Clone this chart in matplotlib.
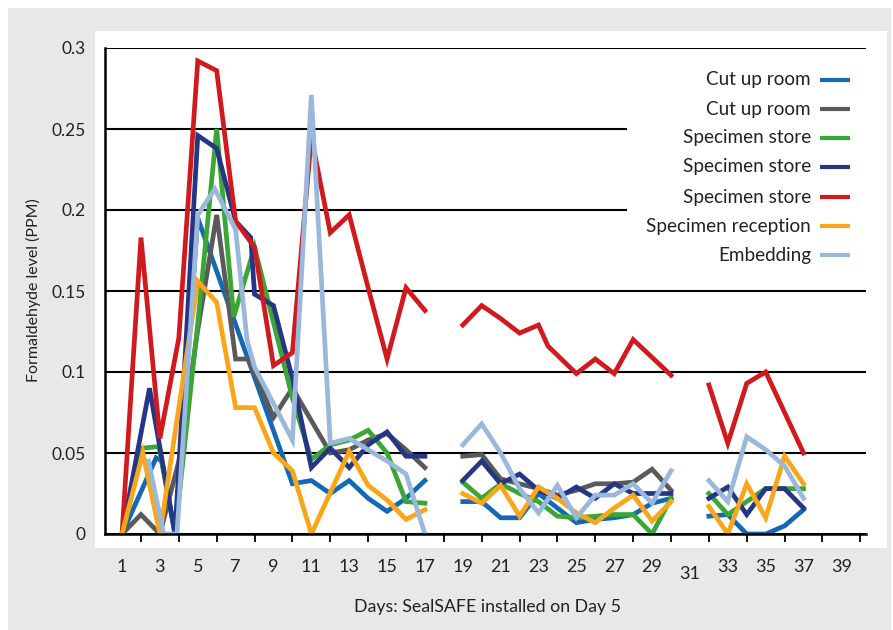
import numpy as np
import matplotlib.pyplot as plt
from matplotlib.patches import Rectangle
from matplotlib.lines import Line2D
import matplotlib.transforms as mtransforms

nan = np.nan

labels = ['Cut up room', 'Cut up room', 'Specimen store', 'Specimen store',
          'Specimen store', 'Specimen reception', 'Embedding']
colors = ['#1469b4', '#5a5a5a', '#3aa635', '#253686', '#d01a1e', '#f9a61a', '#9ab8dc']

# cut up room (blue)
blue_x = [1, 2.8, 3.1, 3.8, 5, 10, 11, 12, 13, 14, 15, 16, 17, nan,
          19, 20, 21, 22, 23, 24, 25, 26, 27, 28, 29, 30, nan,
          32, 33, 34, 35, 36, 37]
blue_y = [0, 0.047, 0.045, 0, 0.195, 0.031, 0.033, 0.025, 0.033, 0.022, 0.014, 0.022, 0.033, nan,
          0.020, 0.020, 0.010, 0.010, 0.025, 0.016, 0.007, 0.009, 0.010, 0.012, 0.019, 0.022, nan,
          0.011, 0.012, 0, 0, 0.005, 0.015]

# cut up room (grey)
grey_x = [1, 2, 3, 4, 5, 6, 7, 7.7, 9, 10, 12, 13, 14, 15, 16, 17, nan,
          19, 20, 21, 22, 23, 24, 25, 26, 27, 28, 29, 30]
grey_y = [0, 0.012, 0, 0.045, 0.126, 0.197, 0.108, 0.108, 0.072, 0.090, 0.050, 0.052, 0.058, 0.062, 0.052, 0.041, nan,
          0.048, 0.049, 0.034, 0.031, 0.028, 0.024, 0.027, 0.031, 0.031, 0.032, 0.040, 0.027]

# specimen store (green)
green_x = [1, 2.1, 2.95, 3.8, 5, 6, 6.9, 8, 10, 11, 12, 13, 14, 15, 16, 17, nan,
           19, 20, 21, 22, 23, 24, 25, 26, 27, 28, 29, 30, nan,
           32, 33, 34, 35, 36, 37]
green_y = [0, 0.053, 0.054, 0, 0.13, 0.250, 0.134, 0.177, 0.084, 0.046, 0.055, 0.058, 0.064, 0.050, 0.020, 0.019, nan,
           0.032, 0.022, 0.031, 0.025, 0.020, 0.011, 0.010, 0.011, 0.012, 0.012, 0, 0.022, nan,
           0.025, 0.012, 0.020, 0.028, 0.028, 0.028]

# specimen store (navy)
navy_x = [1, 2.45, 3.8, 5, 6, 7, 7.8, 8.0, 9, 10, 11, 12, 13, 14, 15, 16, 17, nan,
          19, 20, 21, 22, 23, 24, 25, 26, 27, 28, 29, 30, nan,
          32, 33, 34, 35, 36, 37]
navy_y = [0, 0.090, 0, 0.246, 0.238, 0.193, 0.183, 0.148, 0.141, 0.096, 0.041, 0.053, 0.041, 0.055, 0.063, 0.048, 0.048, nan,
          0.033, 0.045, 0.031, 0.037, 0.027, 0.022, 0.029, 0.022, 0.031, 0.025, 0.025, 0.025, nan,
          0.022, 0.029, 0.012, 0.028, 0.028, 0.016]

# specimen store (red)
red_x = [1, 2, 3, 4, 5, 6, 7, 8, 9, 10, 11, 12, 13, 14, 15, 16, 17, nan,
         19, 20, 21, 22, 23, 23.5, 25, 26, 27, 28, 29, 30, nan,
         32, 33, 34, 35, 36, 37]
red_y = [0, 0.183, 0.059, 0.121, 0.292, 0.286, 0.193, 0.177, 0.104, 0.112, 0.245, 0.186, 0.197, 0.152, 0.108, 0.152, 0.138, nan,
         0.129, 0.141, 0.133, 0.124, 0.129, 0.116, 0.099, 0.108, 0.099, 0.120, 0.109, 0.098, nan,
         0.092, 0.056, 0.093, 0.100, 0.075, 0.050]

# specimen reception (orange)
orange_x = [1, 2.1, 3, 5, 6, 7, 8, 9, 10, 11, 13, 14, 15, 16, 17, nan,
            19, 20, 21, 22, 23, 24, 25, 26, 27, 28, 29, 30, nan,
            32, 33, 34, 35, 36, 37]
orange_y = [0, 0.050, 0, 0.156, 0.143, 0.078, 0.078, 0.050, 0.039, 0, 0.051, 0.030, 0.021, 0.009, 0.015, nan,
            0.025, 0.019, 0.030, 0.011, 0.029, 0.022, 0.013, 0.007, 0.016, 0.024, 0.008, 0.020, nan,
            0.017, 0, 0.031, 0.010, 0.048, 0.031]

# embedding (light blue)
lb_x = [2.4, 3.2, 3.9, 5, 5.9, 7, 7.6, 8, 10, 11, 12, 13, 14, 15, 16, 17, nan,
        19, 20, 21, 22, 23, 24, 25, 26, 27, 28, 29, 30, nan,
        32, 33, 34, 35, 36, 37]
lb_y = [0.045, 0, 0, 0.197, 0.213, 0.188, 0.120, 0.103, 0.058, 0.271, 0.056, 0.059, 0.052, 0.045, 0.037, 0, nan,
        0.055, 0.068, 0.050, 0.028, 0.013, 0.030, 0.010, 0.024, 0.024, 0.031, 0.019, 0.039, nan,
        0.033, 0.020, 0.060, 0.052, 0.042, 0.022]

series = [(blue_x, blue_y), (grey_x, grey_y), (green_x, green_y), (navy_x, navy_y),
          (red_x, red_y), (orange_x, orange_y), (lb_x, lb_y)]

odd_days = list(range(1, 40, 2))
even_days = list(range(2, 41, 2))
yticks = [0, 0.05, 0.1, 0.15, 0.2, 0.25, 0.3]
ytick_labels = ['0', '0.05', '0.1', '0.15', '0.2', '0.25', '0.3']

W, H = 893, 630
fig = plt.figure(figsize=(W / 100, H / 100), dpi=100)
fig.patch.set_facecolor('white')
fig.add_artist(Rectangle((8 / W, 0), 883 / W, 622 / H, transform=fig.transFigure,
                         facecolor='#e8e8e8', edgecolor='none', zorder=-3))
fig.add_artist(Rectangle((95 / W, 82 / H), 792 / W, 517 / H, transform=fig.transFigure,
                         facecolor='white', edgecolor='none', zorder=-2))

ax = fig.add_axes([105 / W, 96 / H, 761 / W, 486 / H])
ax.set_facecolor('none')

font = ['Lato', 'DejaVu Sans']
narrow = ['Liberation Sans Narrow', 'Lato', 'DejaVu Sans']

for (x, y), c, lab in zip(series, colors, labels):
    ax.plot(x, y, color=c, lw=3.4, label=lab, solid_joinstyle='miter', zorder=2)

ax.set_xlim(0.1, 40.3)
ax.set_ylim(0, 0.3)

ax.set_axisbelow(True)
ax.yaxis.grid(True, color='black', lw=1.5)
ax.set_yticks(yticks)
ax.set_yticklabels(ytick_labels, family=font, fontsize=12.5, color='#222222')
ax.tick_params(axis='y', length=0, pad=14)

ax.set_xticks(odd_days)
ax.set_xticklabels([str(d) for d in odd_days], family=narrow, fontsize=13, color='#222222')
ax.set_xticks(even_days, minor=True)
ax.tick_params(axis='x', which='major', length=0, pad=18)
ax.tick_params(axis='x', which='minor', length=6, width=1.3, direction='out', color='black')

# the "31" label sits a little lower in the original
off = mtransforms.ScaledTranslation(0, -5 / 72, fig.dpi_scale_trans)
for t in ax.get_xticklabels():
    if t.get_text() == '31':
        t.set_transform(t.get_transform() + off)

for s in ['top', 'right']:
    ax.spines[s].set_visible(False)
for s in ['left', 'bottom']:
    ax.spines[s].set_linewidth(1.8)
    ax.spines[s].set_color('black')

# white box behind the legend hides part of the gridlines
ax.add_patch(Rectangle((0.686, 0.533), 0.32, 0.442, transform=ax.transAxes,
                       facecolor='white', edgecolor='none', zorder=1, clip_on=False))

# legend: right-aligned labels with the line key on the right
row_y = [80, 109, 138, 167, 197, 226, 255]
for lab, c, ry in zip(labels, colors, row_y):
    yy = 1 - ry / H
    fig.text(811 / W, yy, lab, ha='right', va='center', family=font, fontsize=13.6, color='#222222')
    fig.add_artist(Line2D([820 / W, 850 / W], [yy, yy], transform=fig.transFigure,
                          color=c, lw=3.0, solid_capstyle='butt'))

fig.text(33 / W, 1 - 290 / H, 'Formaldehyde level (PPM)', rotation=90, ha='center', va='center',
         family=font, fontsize=11.5, color='#222222')
fig.text(487 / W, 1 - 607 / H, 'Days: SealSAFE installed on Day 5', ha='center', va='center',
         family=narrow, fontsize=12.8, color='#222222')

fig.savefig('out.png', dpi=100)
